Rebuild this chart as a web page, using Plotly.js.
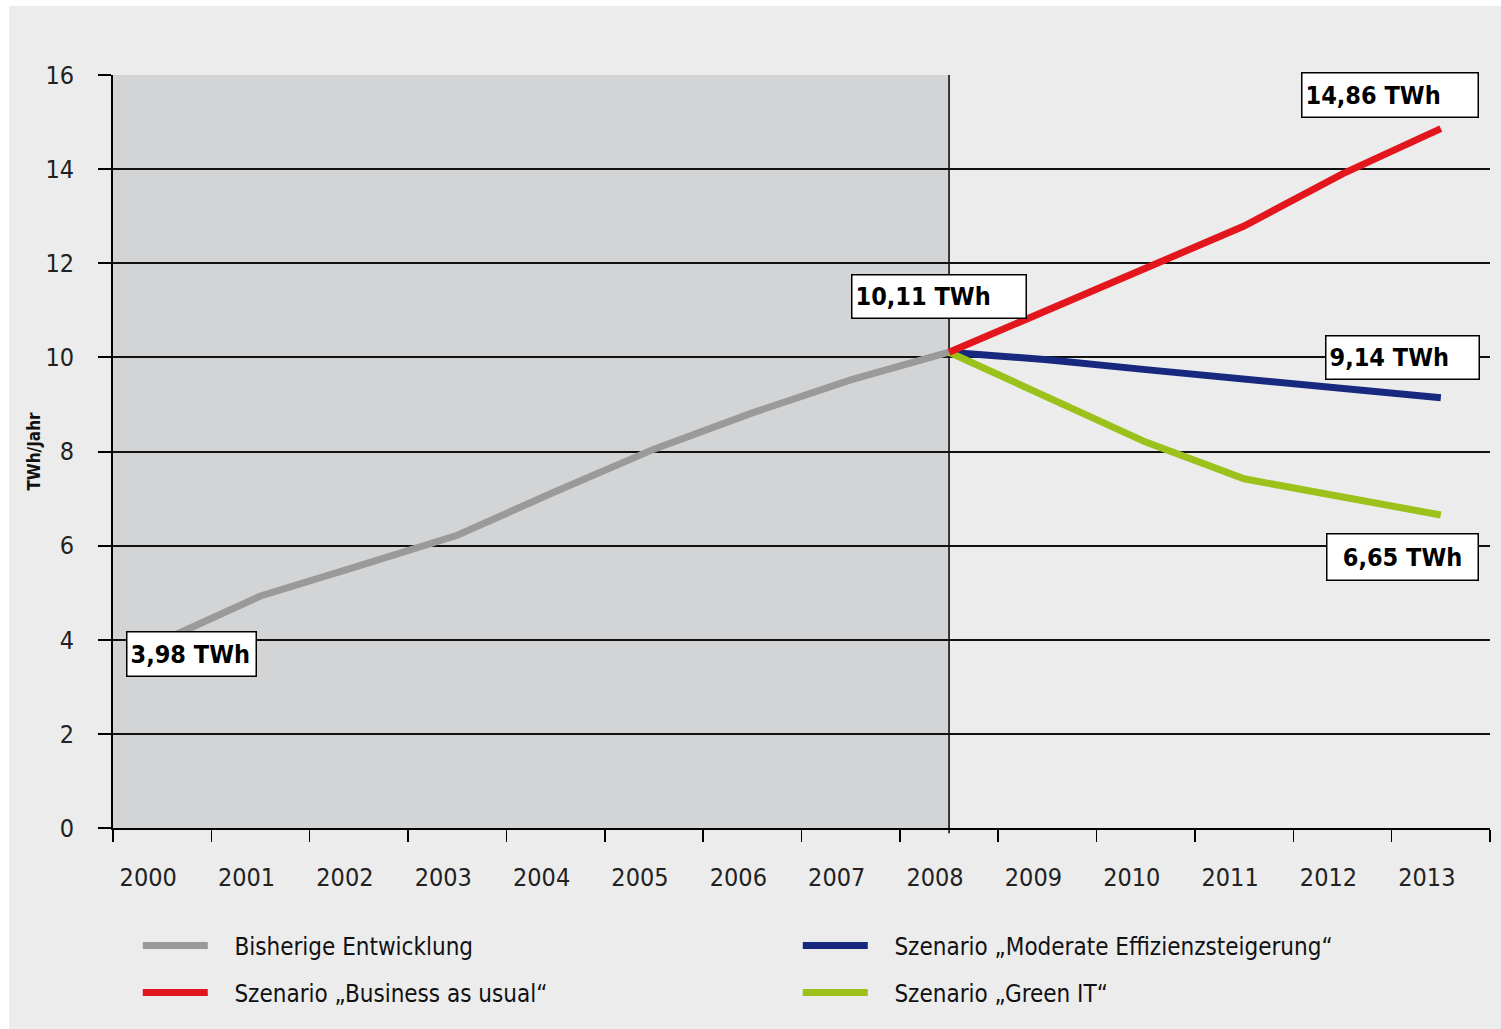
<!DOCTYPE html>
<html>
<head>
<meta charset="utf-8">
<script src="https://cdn.plot.ly/plotly-3.0.1.min.js"></script>
<style>
  html, body { margin: 0; padding: 0; background: #ffffff; }
  #chart { position: absolute; left: 9px; top: 6px; width: 1492px; height: 1023px; }
</style>
</head>
<body>
<div id="chart"></div>
<script>
// Rechenzentren in Deutschland: Stromverbrauch in TWh pro Jahr
const histYears = [2000, 2001, 2002, 2003, 2004, 2005, 2006, 2007, 2008];
const histValues = [3.98, 4.93, 5.57, 6.22, 7.15, 8.05, 8.82, 9.52, 10.11];

const scenYears = [2008, 2009, 2010, 2011, 2012, 2013];
const bauValues = [10.11, 11.0, 11.88, 12.79, 13.9, 14.86];
const moderateValues = [10.11, 9.95, 9.74, 9.55, 9.36, 9.14];
const greenValues = [10.11, 9.15, 8.2, 7.42, 7.05, 6.65];

const allYears = [2000, 2001, 2002, 2003, 2004, 2005, 2006, 2007, 2008, 2009, 2010, 2011, 2012, 2013];
const yTicks = [0, 2, 4, 6, 8, 10, 12, 14, 16];

const seriesNames = [
  'Bisherige Entwicklung',
  'Szenario \u201EBusiness as usual\u201C',
  'Szenario \u201EModerate Effizienzsteigerung\u201C',
  'Szenario \u201EGreen IT\u201C'
];

const FONT = '"Liberation Sans Narrow", "DejaVu Sans Condensed", "Arial Narrow", "Liberation Sans", Arial, sans-serif';
const fmt = v => v.toFixed(2).replace('.', ',') + ' TWh';
const last = a => a[a.length - 1];

// legend entries get a wider gap between swatch and text
const lineTrace = (x, y, name, color, legendId, rank) => ({
  type: 'scatter', mode: 'lines', x: x, y: y, name: '\u2003' + name,
  line: { color: color, width: 7 },
  legend: legendId, legendrank: rank, hoverinfo: 'skip'
});

const traces = [
  lineTrace(histYears, histValues, seriesNames[0], '#9a9a9a', 'legend', 1),
  lineTrace(scenYears, moderateValues, seriesNames[2], '#17287f', 'legend', 2),
  lineTrace(scenYears, greenValues, seriesNames[3], '#9bc11a', 'legend2', 2),
  lineTrace(scenYears, bauValues, seriesNames[1], '#e3161e', 'legend2', 1)
];

const boxLabel = (x, y, w, h, dx, dy, align) => ({
  x: x, y: y, xref: 'x', yref: 'y', showarrow: false,
  text: '<b>' + fmt(y) + '</b>',
  font: { family: FONT, size: 25, color: '#000' },
  bgcolor: '#ffffff', bordercolor: '#000000', borderwidth: 1.5, borderpad: 3,
  width: w, height: h, align: align, valign: 'middle',
  xshift: dx, yshift: dy
});

const histEnd = last(histYears);
const x0 = allYears[0] - 0.5, x1 = last(allYears) + 0.5;

const legendBase = (y) => ({
  orientation: 'h', x: 0.018, xanchor: 'left', y: y, yanchor: 'top',
  entrywidth: 580, entrywidthmode: 'pixels', itemwidth: 65,
  font: { family: FONT, size: 24, color: '#111' },
  bgcolor: 'rgba(0,0,0,0)', traceorder: 'normal', itemclick: false
});

const layout = {
  width: 1492, height: 1023,
  paper_bgcolor: '#ececec', plot_bgcolor: '#ececec',
  margin: { l: 104, r: 11, t: 69, b: 201 },
  font: { family: FONT, color: '#222' },
  showlegend: true,
  legend: legendBase(-0.1268),
  legend2: legendBase(-0.1892),
  xaxis: {
    range: [x0, x1], tickvals: allYears, ticktext: allYears.map(String),
    ticks: '', showgrid: false, zeroline: false,
    showline: true, linecolor: '#000', linewidth: 2,
    tickfont: { family: FONT, size: 25, color: '#222' },
    ticklabelshift: -14, ticklabelstandoff: 26,
    minor: { tick0: x0, dtick: 1, ticks: 'outside', ticklen: 12, tickwidth: 1.5, tickcolor: '#000', showgrid: false },
    fixedrange: true
  },
  yaxis: {
    range: [0, 16], tickvals: yTicks, ticktext: yTicks.map(String),
    ticks: 'outside', ticklen: 13, tickwidth: 2, tickcolor: '#000',
    showgrid: true, gridcolor: '#111', gridwidth: 2,
    zeroline: false, showline: true, linecolor: '#000', linewidth: 2,
    tickfont: { family: FONT, size: 25, color: '#222' },
    ticklabelstandoff: 19,
    title: { text: '<b>TWh/Jahr</b>', font: { family: FONT, size: 17, color: '#111' }, standoff: 0 },
    fixedrange: true
  },
  shapes: [
    { type: 'rect', xref: 'x', yref: 'paper', x0: x0, x1: histEnd, y0: 0, y1: 1,
      fillcolor: '#d3d4d6', line: { width: 0 }, layer: 'below' },
    { type: 'line', xref: 'x', yref: 'paper', x0: histEnd, x1: histEnd, y0: -0.007, y1: 1,
      line: { color: '#000', width: 1.5 }, layer: 'between' }
  ],
  annotations: [
    boxLabel(histYears[0], histValues[0], 122, 37, 29, -13, 'left'),
    boxLabel(histEnd, last(histValues), 167, 36, -10, 56, 'left'),
    boxLabel(last(scenYears), last(bauValues), 169, 37, -51, 34, 'left'),
    boxLabel(last(scenYears), last(moderateValues), 146, 36, -38, 40, 'left'),
    boxLabel(last(scenYears), last(greenValues), 144, 39, -38, -42, 'center')
  ]
};

Plotly.newPlot('chart', traces, layout, { displayModeBar: false, staticPlot: true });
</script>
</body>
</html>
